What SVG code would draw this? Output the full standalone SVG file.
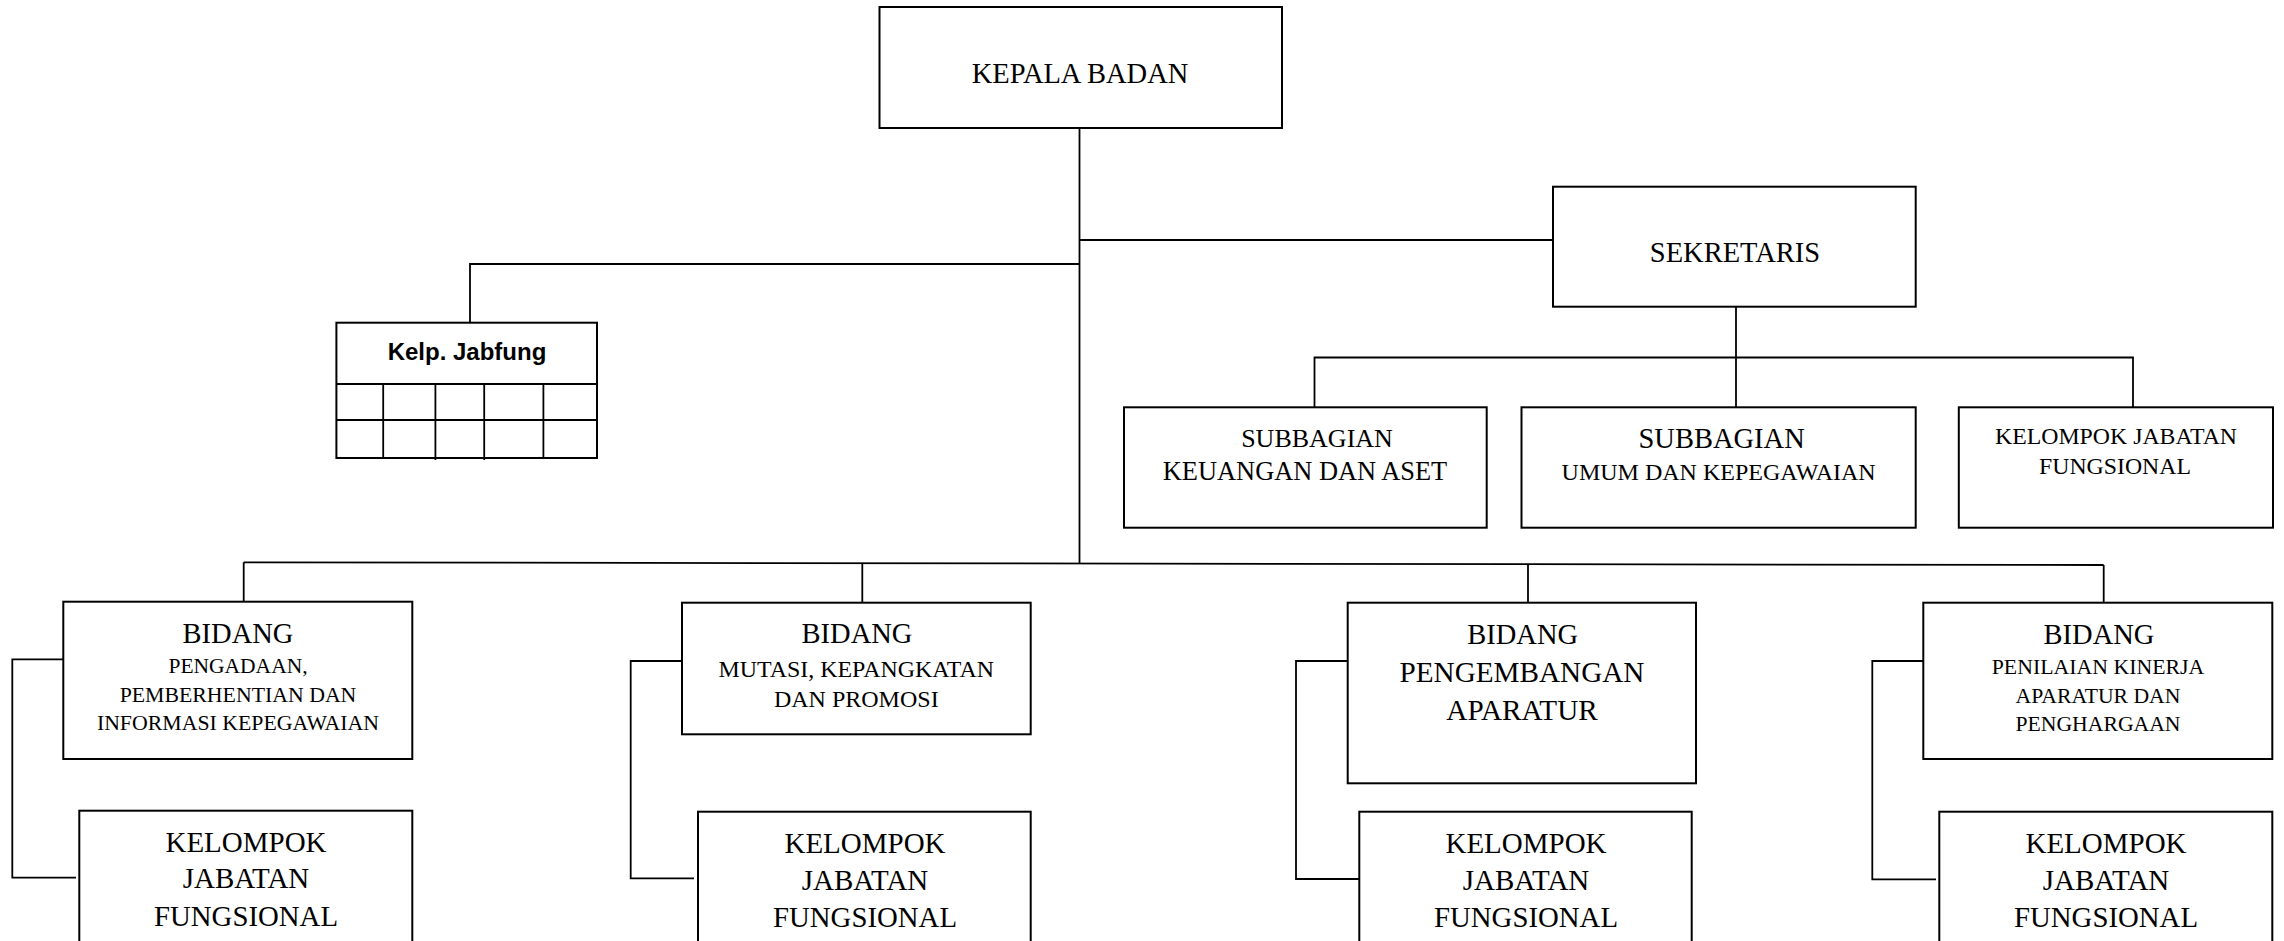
<svg xmlns="http://www.w3.org/2000/svg" width="2284" height="941" viewBox="0 0 2284 941">
<style>
.box{fill:#fff;stroke:#000;stroke-width:2}
.ln{fill:none;stroke:#000;stroke-width:1.8}
.t{font-family:"Liberation Serif","Times New Roman",serif;fill:#000;text-anchor:middle}
.b{font-family:"Liberation Sans",Arial,sans-serif;font-weight:bold;fill:#000;text-anchor:middle}
</style>
<rect width="2284" height="941" fill="#fff"/>
<g id="connectors">
<line class="ln" x1="1079.5" y1="128" x2="1079.5" y2="563.5"/>
<line class="ln" x1="1079.5" y1="240" x2="1553" y2="240"/>
<polyline class="ln" points="1079.5,264 470,264 470,323"/>
<line class="ln" x1="1736" y1="307" x2="1736" y2="357.5"/>
<polyline class="ln" points="1314.5,407 1314.5,357.5 2133,357.5 2133,407"/>
<line class="ln" x1="1736" y1="357.5" x2="1736" y2="407"/>
<line class="ln" x1="243.7" y1="562.3" x2="2103.7" y2="565"/>
<line class="ln" x1="243.7" y1="562.3" x2="243.7" y2="602"/>
<line class="ln" x1="862.3" y1="563" x2="862.3" y2="603"/>
<line class="ln" x1="1528" y1="564" x2="1528" y2="603"/>
<line class="ln" x1="2103.7" y1="565" x2="2103.7" y2="603"/>
<polyline class="ln" points="63.3,659.3 12.3,659.3 12.3,877.7 76,877.7"/>
<polyline class="ln" points="682,661 630.7,661 630.7,878.3 694,878.3"/>
<polyline class="ln" points="1347.7,661 1296,661 1296,879 1359.3,879"/>
<polyline class="ln" points="1923.3,661 1872.3,661 1872.3,879.3 1936,879.3"/>
</g>
<g id="kepala">
<rect class="box" x="879.5" y="7" width="402.5" height="121"/>
<text class="t" x="1080" y="83.3" font-size="28.5">KEPALA BADAN</text>
</g>
<g id="sekretaris">
<rect class="box" x="1553" y="186.7" width="362.7" height="120"/>
<text class="t" x="1735" y="261.7" font-size="28.5">SEKRETARIS</text>
</g>
<g id="kelp-jabfung">
<rect class="box" x="336.4" y="322.7" width="260.6" height="135.3"/>
<line class="ln" x1="336.4" y1="384" x2="597" y2="384"/>
<line class="ln" x1="336.4" y1="420" x2="597" y2="420"/>
<line class="ln" x1="383.2" y1="384" x2="383.2" y2="458"/>
<line class="ln" x1="435.4" y1="384" x2="435.4" y2="460"/>
<line class="ln" x1="484.2" y1="384" x2="484.2" y2="460"/>
<line class="ln" x1="543.4" y1="384" x2="543.4" y2="458"/>
<text class="b" x="467" y="360" font-size="24">Kelp. Jabfung</text>
</g>
<g id="sub-keuangan">
<rect class="box" x="1124" y="407.3" width="362.7" height="120.4"/>
<text class="t" x="1317" y="446.7" font-size="26">SUBBAGIAN</text>
<text class="t" x="1305" y="480" font-size="26.4">KEUANGAN DAN ASET</text>
</g>
<g id="sub-umum">
<rect class="box" x="1521.5" y="407.3" width="394.2" height="120.4"/>
<text class="t" x="1721.6" y="448" font-size="28.5">SUBBAGIAN</text>
<text class="t" x="1718.6" y="480" font-size="24">UMUM DAN KEPEGAWAIAN</text>
</g>
<g id="sub-kjf">
<rect class="box" x="1958.8" y="407.3" width="314.2" height="120.4"/>
<text class="t" x="2116" y="444" font-size="23.8">KELOMPOK JABATAN</text>
<text class="t" x="2115" y="474" font-size="23.8">FUNGSIONAL</text>
</g>
<g id="bidang-pengadaan">
<rect class="box" x="63.3" y="601.7" width="349" height="157.3"/>
<text class="t" x="238" y="643.3" font-size="28.5">BIDANG</text>
<text class="t" x="238" y="673.3" font-size="21.5">PENGADAAN,</text>
<text class="t" x="238" y="701.7" font-size="21.8">PEMBERHENTIAN DAN</text>
<text class="t" x="238" y="730" font-size="21.8">INFORMASI KEPEGAWAIAN</text>
</g>
<g id="kjf-1">
<rect class="box" x="79.3" y="810.7" width="333" height="140"/>
<text class="t" x="246" y="851.7" font-size="29">KELOMPOK</text>
<text class="t" x="246" y="888.3" font-size="29">JABATAN</text>
<text class="t" x="246" y="926" font-size="28.8">FUNGSIONAL</text>
</g>
<g id="bidang-mutasi">
<rect class="box" x="682" y="602.7" width="348.7" height="131.6"/>
<text class="t" x="857" y="643.3" font-size="28.5">BIDANG</text>
<text class="t" x="856.3" y="676.7" font-size="23.9">MUTASI, KEPANGKATAN</text>
<text class="t" x="856.3" y="707.3" font-size="24">DAN PROMOSI</text>
</g>
<g id="kjf-2">
<rect class="box" x="698" y="811.7" width="332.7" height="140"/>
<text class="t" x="865" y="852.7" font-size="29">KELOMPOK</text>
<text class="t" x="865" y="890" font-size="29">JABATAN</text>
<text class="t" x="865" y="926.7" font-size="28.8">FUNGSIONAL</text>
</g>
<g id="bidang-pengembangan">
<rect class="box" x="1347.7" y="602.7" width="348.3" height="180.6"/>
<text class="t" x="1522.7" y="644" font-size="28.5">BIDANG</text>
<text class="t" x="1522" y="681.7" font-size="29.2">PENGEMBANGAN</text>
<text class="t" x="1522" y="720" font-size="29.2">APARATUR</text>
</g>
<g id="kjf-3">
<rect class="box" x="1359.3" y="811.7" width="332.4" height="140"/>
<text class="t" x="1526" y="852.7" font-size="29">KELOMPOK</text>
<text class="t" x="1526" y="890" font-size="29">JABATAN</text>
<text class="t" x="1526" y="926.7" font-size="28.8">FUNGSIONAL</text>
</g>
<g id="bidang-penilaian">
<rect class="box" x="1923.3" y="602.7" width="349" height="156.3"/>
<text class="t" x="2099" y="644" font-size="28.5">BIDANG</text>
<text class="t" x="2098" y="674.3" font-size="21.8">PENILAIAN KINERJA</text>
<text class="t" x="2098" y="702.7" font-size="21.7">APARATUR DAN</text>
<text class="t" x="2098" y="730.7" font-size="21.7">PENGHARGAAN</text>
</g>
<g id="kjf-4">
<rect class="box" x="1939.3" y="811.7" width="333" height="140"/>
<text class="t" x="2106" y="852.7" font-size="29">KELOMPOK</text>
<text class="t" x="2106" y="890" font-size="29">JABATAN</text>
<text class="t" x="2106" y="926.7" font-size="28.8">FUNGSIONAL</text>
</g>
</svg>
